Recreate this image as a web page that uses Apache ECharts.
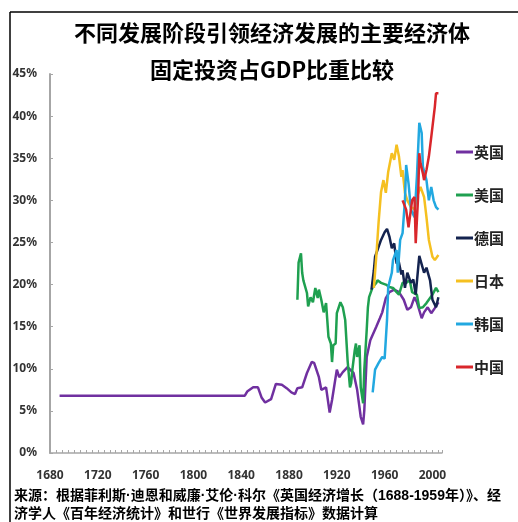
<!DOCTYPE html>
<html>
<head>
<meta charset="utf-8">
<script src="https://cdn.jsdelivr.net/npm/echarts@6/dist/echarts.min.js"></script>
<style>
  html, body { margin: 0; padding: 0; background: #fff; }
  #chart { width: 518px; height: 522px; }
</style>
</head>
<body>
<div id="chart"></div>
<script>
// Fixed investment as a share of GDP (%), [year, value]
const ukData = [
  [1688, 6.8], [1843, 6.8], [1845, 7.3], [1850, 7.8], [1854, 7.8], [1857, 6.6], [1860, 6.0],
  [1865, 6.4], [1869, 8.2], [1874, 8.1], [1878, 7.7], [1882, 7.2], [1885, 7.0], [1887, 7.7],
  [1891, 7.8], [1895, 9.5], [1899, 10.8], [1901, 10.7], [1905, 9.0], [1907, 7.5], [1911, 7.8],
  [1914, 4.8], [1916, 6.3], [1920, 9.9], [1922, 9.0], [1925, 9.6], [1929, 10.2], [1934, 9.5],
  [1937, 7.5], [1940, 4.3], [1942, 3.4], [1943, 5.1], [1945, 11.4], [1948, 13.4], [1953, 15.0],
  [1956, 16.0], [1958, 16.7], [1961, 18.4], [1964, 19.1], [1968, 19.4], [1972, 19.1], [1976, 18.2],
  [1979, 17.0], [1982, 17.3], [1985, 18.5], [1987, 17.9], [1991, 16.0], [1993, 16.7], [1996, 17.3],
  [1999, 16.6], [2002, 17.2], [2005, 17.9]
];
const usData = [
  [1887, 18.2], [1888, 22.6], [1890, 23.7], [1891, 21.4], [1892, 20.5], [1895, 19.0], [1896, 17.4],
  [1898, 18.5], [1900, 17.9], [1902, 19.6], [1904, 18.4], [1905, 19.4], [1907, 18.2], [1909, 16.7],
  [1911, 17.8], [1912, 15.8], [1913, 13.8], [1915, 13.0], [1916, 10.8], [1917, 12.8], [1919, 13.0],
  [1920, 16.6], [1923, 17.9], [1925, 17.3], [1927, 15.8], [1929, 11.0], [1931, 7.8], [1932, 8.3],
  [1933, 9.9], [1935, 12.2], [1936, 13.0], [1937, 11.4], [1939, 12.8], [1940, 7.8], [1942, 5.9],
  [1943, 9.9], [1945, 14.6], [1946, 17.3], [1947, 18.5], [1950, 19.7], [1953, 20.2], [1954, 20.5],
  [1957, 20.2], [1958, 20.3], [1961, 20.0], [1964, 19.7], [1967, 19.6], [1970, 19.1], [1972, 18.8],
  [1975, 20.2], [1978, 20.2], [1981, 20.5], [1983, 19.1], [1987, 18.8], [1989, 17.2], [1992, 17.3],
  [1995, 17.8], [1998, 18.4], [2000, 18.8], [2003, 19.6], [2005, 19.1]
];
const deData = [
  [1949, 19.4], [1951, 21.7], [1952, 23.3], [1954, 24.1], [1957, 25.3], [1960, 26.2], [1962, 26.6],
  [1964, 25.7], [1966, 24.3], [1968, 24.9], [1970, 22.5], [1971, 23.3], [1974, 21.2], [1975, 21.7],
  [1977, 19.6], [1979, 21.4], [1982, 20.2], [1984, 20.6], [1986, 18.8], [1989, 23.4], [1991, 22.4],
  [1993, 21.4], [1995, 22.0], [1998, 20.5], [2000, 18.2], [2003, 17.3], [2005, 18.5]
];
const jpData = [
  [1951, 19.6], [1953, 23.3], [1955, 27.5], [1957, 31.0], [1959, 32.4], [1961, 30.9], [1963, 33.4],
  [1966, 35.6], [1968, 34.8], [1970, 36.6], [1972, 35.2], [1974, 32.8], [1975, 33.6], [1977, 30.9],
  [1979, 30.0], [1982, 29.2], [1985, 28.9], [1987, 30.4], [1990, 31.6], [1993, 30.4], [1995, 28.0],
  [1997, 25.3], [2000, 23.3], [2002, 22.9], [2005, 23.5]
];
const krData = [
  [1950, 7.2], [1952, 9.9], [1955, 10.7], [1958, 11.4], [1960, 11.2], [1962, 15.8], [1963, 19.7],
  [1966, 21.4], [1967, 22.9], [1970, 24.1], [1971, 21.4], [1973, 25.3], [1975, 26.1], [1977, 30.0],
  [1978, 34.2], [1980, 32.0], [1982, 28.9], [1985, 28.0], [1987, 32.8], [1989, 39.2], [1991, 38.0],
  [1992, 34.0], [1995, 32.4], [1997, 30.0], [1999, 31.6], [2001, 30.0], [2003, 29.2], [2005, 28.9]
];
const cnData = [
  [1975, 30.0], [1978, 28.9], [1980, 26.8], [1983, 30.0], [1985, 30.4], [1986, 24.9], [1988, 30.4],
  [1989, 35.6], [1990, 34.4], [1992, 33.2], [1993, 32.4], [1995, 33.6], [1997, 35.2], [1999, 37.5],
  [2001, 39.9], [2002, 41.1], [2003, 42.7], [2005, 42.7]
];

const seriesNames = ['英国', '美国', '德国', '日本', '韩国', '中国'];
const seriesData = [ukData, usData, deData, jpData, krData, cnData];
const seriesColors = ['#7030a0', '#1fa050', '#14234f', '#f5c020', '#22a8e0', '#d9262b'];

const titleLine1 = '不同发展阶段引领经济发展的主要经济体';
const titleLine2 = '固定投资占GDP比重比较';
const sourceLine1 = '来源：根据菲利斯·迪恩和威廉·艾伦·科尔《英国经济增长（1688-1959年）》、经';
const sourceLine2 = '济学人《百年经济统计》和世行《世界发展指标》数据计算';

const cjk = '"Noto Sans CJK SC", "Noto Sans", sans-serif';
// Latin glyphs (digits, middle dots) from a narrower face, CJK from Noto
const mixed = '"Liberation Sans", "Noto Sans CJK SC", sans-serif';
const chart = echarts.init(document.getElementById('chart'), null, { renderer: 'canvas' });

chart.setOption({
  backgroundColor: '#ffffff',
  animation: false,
  title: [
    { text: titleLine1, left: 272, top: 22, textAlign: 'center', padding: 0,
      textStyle: { fontFamily: cjk, fontSize: 22, fontWeight: 'bold', color: '#000' } },
    { text: titleLine2, left: 272, top: 59, textAlign: 'center', padding: 0,
      textStyle: { fontFamily: cjk, fontSize: 22, fontWeight: 'bold', color: '#000' } }
  ],
  legend: {
    orient: 'vertical',
    left: 451,
    top: 138,
    itemGap: 25,
    itemWidth: 17,
    itemHeight: 3,
    icon: 'rect',
    data: seriesNames,
    textStyle: { fontFamily: cjk, fontSize: 15, fontWeight: 'bold', color: '#222', lineHeight: 18, padding: [0, 0, 0, -4] }
  },
  grid: { left: 50, right: 76, top: 74, bottom: 69, containLabel: false },
  xAxis: {
    type: 'value',
    min: 1680,
    max: 2008,
    interval: 40,
    splitLine: { show: false },
    axisLine: { lineStyle: { color: '#a6a6a6', width: 1.5 } },
    axisTick: { inside: true, length: 3, lineStyle: { color: '#a6a6a6' } },
    minorTick: { show: true, splitNumber: 8, length: 3, lineStyle: { color: '#a6a6a6' } },
    axisLabel: {
      margin: 17,
      fontFamily: 'Noto Sans, sans-serif', fontSize: 12, fontWeight: 'bold', color: '#333',
      formatter: v => (v % 40 === 0 ? String(v) : '')
    }
  },
  yAxis: {
    type: 'value',
    min: 0,
    max: 45,
    interval: 5,
    splitLine: { show: false },
    axisLine: { show: true, lineStyle: { color: '#a6a6a6', width: 2 } },
    axisTick: { show: true, inside: true, length: 3, lineStyle: { color: '#a6a6a6' } },
    axisLabel: {
      margin: 13,
      fontFamily: 'Noto Sans, sans-serif', fontSize: 12, fontWeight: 'bold', color: '#333',
      formatter: '{value}%'
    }
  },
  series: seriesNames.map((name, i) => ({
    name: name,
    type: 'line',
    data: seriesData[i],
    symbol: 'none',
    color: seriesColors[i],
    lineStyle: { width: 2.5, color: seriesColors[i] },
    z: 2 + i
  })),
  graphic: [
    { type: 'line', shape: { x1: 10, y1: 12, x2: 518, y2: 12 }, style: { stroke: '#000', lineWidth: 1.5 } },
    { type: 'line', shape: { x1: 10, y1: 12, x2: 10, y2: 522 }, style: { stroke: '#000', lineWidth: 1.5 } },
    { type: 'text', left: 14, top: 489,
      style: { text: sourceLine1, font: 'bold 14px ' + mixed, fill: '#000' } },
    { type: 'text', left: 14, top: 507,
      style: { text: sourceLine2, font: 'bold 14px ' + mixed, fill: '#000' } }
  ]
});
</script>
</body>
</html>
